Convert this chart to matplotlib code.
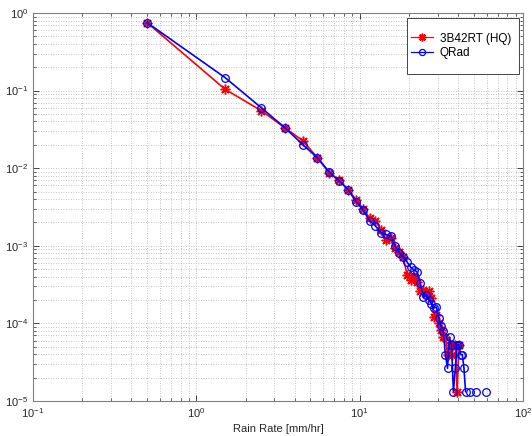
import numpy as np
import matplotlib
matplotlib.use("Agg")
import matplotlib.pyplot as plt
from matplotlib.patches import Rectangle
from matplotlib.ticker import LogLocator, NullFormatter

plt.rcParams['font.family'] = ['Liberation Sans', 'DejaVu Sans']
plt.rcParams['mathtext.fontset'] = 'custom'
plt.rcParams['mathtext.rm'] = 'Liberation Sans'
plt.rcParams['mathtext.it'] = 'Liberation Sans'

nan = np.nan

# rain-rate bin centres [mm/hr]
rain_rate = np.arange(0.5, 60.0, 1.0)

# normalised frequency per bin (nan = empty bin)
hq_3b42rt = [
    0.75, 0.104, 0.055, 0.033, 0.0225, 0.0137, 0.0087, 0.0070, 0.0053, 0.0039,
    0.0030, 0.0023, 0.0021, 0.0016, 0.00119, 0.00125, 0.00093, 0.00084, 0.00072, 0.00042,
    0.00036, 0.00040, 0.00034, 0.00026, 0.00027, 0.00024, 0.00026, 0.00021, 0.00012, 0.00013,
    0.00010, 8.2e-5, 6.6e-5, 6.6e-5, 3.96e-5, 5.28e-5, 3.96e-5, 5.28e-5, 5.28e-5, 1.32e-5,
    5.28e-5, nan, nan, nan, nan, nan, nan, nan, nan, nan,
    nan, nan, nan, nan, nan, nan, nan, nan, nan, nan,
]

qrad = [
    0.75, 0.147, 0.060, 0.033, 0.020, 0.0137, 0.0090, 0.0068, 0.0053, 0.0037,
    0.0029, 0.0021, 0.0018, 0.00146, 0.0014, 0.00135, 0.00099, 0.00081, 0.00072, 0.00062,
    0.00053, 0.00049, 0.00046, 0.00033, 0.00022, 0.00023, 0.00020, 0.00018, 0.000158, 0.000162,
    0.000119, 9.2e-5, 7.9e-5, 3.96e-5, 2.64e-5, 6.6e-5, 5.28e-5, 1.32e-5, 2.64e-5, 5.28e-5,
    5.28e-5, 3.96e-5, 3.96e-5, 2.64e-5, 1.32e-5, nan, nan, 1.32e-5, nan, nan,
    nan, 1.32e-5, nan, nan, nan, nan, nan, nan, nan, 1.32e-5,
]

series_labels = ['3B42RT (HQ)', 'QRad']

W, H = 532, 436
fig = plt.figure(figsize=(W / 100, H / 100), dpi=100)
ax = fig.add_axes([33 / W, (H - 401) / H, 490 / W, 388 / H])

# 8-armed asterisk marker
asterisk = (8, 2, 0)
ax.loglog(rain_rate, hq_3b42rt, color='#ff0000', marker=asterisk, markersize=7,
          linewidth=1.2, markeredgewidth=1.1, label=series_labels[0])
ax.loglog(rain_rate, qrad, color='#0000ff', marker='o', markersize=5.5,
          markerfacecolor='none', linewidth=1.2, markeredgewidth=0.9,
          label=series_labels[1])

ax.set_xlim(0.1, 100)
ax.set_ylim(1e-5, 1)

ax.xaxis.set_major_locator(LogLocator(base=10, numticks=10))
ax.yaxis.set_major_locator(LogLocator(base=10, numticks=10))
ax.xaxis.set_minor_locator(LogLocator(base=10, subs=np.arange(2, 10), numticks=20))
ax.yaxis.set_minor_locator(LogLocator(base=10, subs=np.arange(2, 10), numticks=20))
ax.xaxis.set_minor_formatter(NullFormatter())
ax.yaxis.set_minor_formatter(NullFormatter())

ax.grid(True, which='both', linestyle=(0, (1, 2)), color='#b0b0b0', linewidth=0.6)
ax.set_axisbelow(True)

ax.tick_params(which='both', direction='in', top=True, right=True,
               colors='#262626', labelsize=8, labelcolor='#262626')
ax.tick_params(which='major', length=4, width=0.6)
ax.tick_params(which='minor', length=2, width=0.5)
for s in ax.spines.values():
    s.set_color('#808080')
    s.set_linewidth(0.8)

ax.set_xlabel('Rain Rate [mm/hr]', fontsize=8, color='#262626', labelpad=3)

# legend box drawn as a plain rectangle, entries placed inside it
box = Rectangle((407 / W, 1 - 74 / H), 112 / W, 56 / H, transform=fig.transFigure,
                facecolor='white', edgecolor='#262626', linewidth=0.6, zorder=5)
fig.patches.append(box)
leg = fig.legend(loc='center left', bbox_to_anchor=(409 / W, 1 - 46 / H),
                 bbox_transform=fig.transFigure, fontsize=8.5, frameon=False,
                 borderpad=0.2, labelspacing=0.25, handlelength=1.8,
                 handletextpad=0.6, borderaxespad=0, markerscale=0.8)
leg.set_zorder(6)
for line in leg.get_lines():
    line.set_linewidth(0.9)

fig.savefig('out.png', dpi=100)
